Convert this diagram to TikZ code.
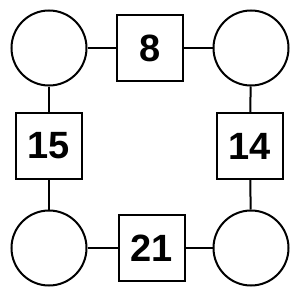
\documentclass[tikz,border=0pt]{standalone}
\usepackage{fontspec}
\setmainfont{Liberation Sans}
\usepackage{tikz}

\begin{document}
\begin{tikzpicture}[x=1pt, y=-1pt, line width=2pt,
		spot/.style={draw, circle, inner sep=0pt, minimum size=75pt},
		box/.style={draw, rectangle, inner sep=0pt, minimum size=66pt, font=\fontsize{38}{38}\selectfont\bfseries}]
		\useasboundingbox (0,0) rectangle (300,300);
		\node[spot] (C1) at (49,48) {};
		\node[spot] (C2) at (251,48) {};
		\node[spot] (C3) at (49,248) {};
		\node[spot] (C4) at (251,248) {};
		\node[box] (S1) at (150,48) {8};
		\node[box] (S2) at (49,146) {15};
		\node[box] (S3) at (250,146) {14};
		\node[box] (S4) at (152,248) {21};
		\draw (C1) -- (S1) -- (C2);
		\draw (C1) -- (S2) -- (C3);
		\draw (C2) -- (S3) -- (C4);
		\draw (C3) -- (S4) -- (C4);
	\end{tikzpicture}
\end{document}
